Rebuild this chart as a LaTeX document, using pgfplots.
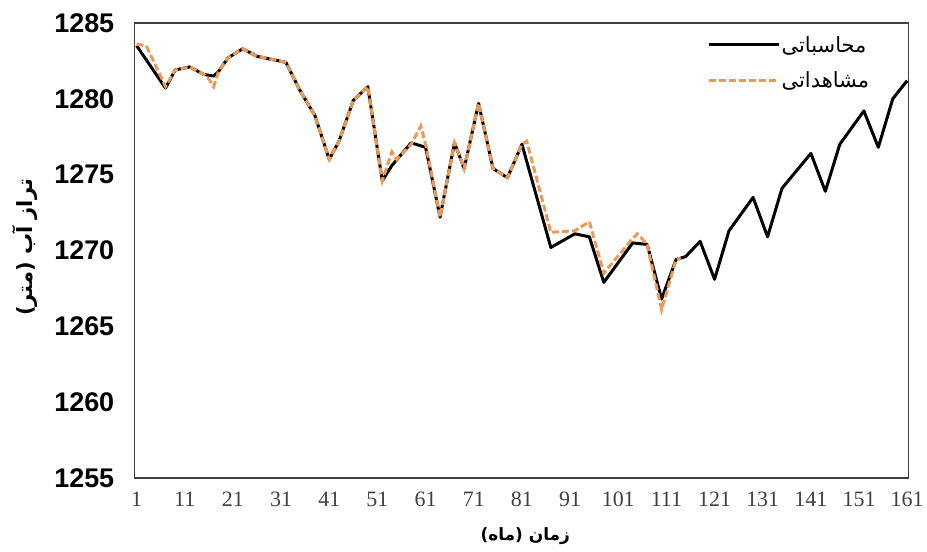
\documentclass[border=0pt]{standalone}
\usepackage{fontspec}
\setmainfont{Liberation Serif}
\newfontfamily\arabicfont[Script=Arabic]{DejaVu Sans}
\newfontfamily\sansb{Liberation Sans}
\TeXXeTstate=1
\usepackage{pgfplots}
\pgfplotsset{compat=1.18}
\definecolor{obs}{RGB}{236,152,86}

\begin{document}
\begin{tikzpicture}
\begin{axis}[name=ax, scale only axis, width=775pt, height=456pt,
 xmin=0.6, xmax=161.2, ymin=1255, ymax=1285,
 xtick={1,11,...,161}, ytick={1255,1260,...,1285},
 major tick length=0pt,
 axis line style={black!75, line width=1.2pt},
 /pgf/number format/assume math mode=true,
 /pgf/number format/1000 sep={},
 yticklabel style={font=\sansb\bfseries\fontsize{27}{27}\selectfont, xshift=-17pt},
 xticklabel style={font=\fontsize{22}{22}\selectfont, text=black!75, yshift=-10pt},
 xlabel={\arabicfont\bfseries\fontsize{17}{17}\selectfont\beginR زمان (ماه)\endR},
 x label style={at={(axis description cs:0.505,-0.127)}, anchor=center},
 ylabel={\arabicfont\bfseries\fontsize{21}{21}\selectfont\beginR تراز آب (متر)\endR},
 y label style={at={(axis description cs:-0.142,0.507)}, anchor=center},
 legend style={draw=none, fill=none, at={(0.955,0.978)}, anchor=north east,
   font=\arabicfont\fontsize{21}{21}\selectfont, row sep=16pt, column sep=0pt,
   nodes={inner sep=1pt}},
 legend cell align=left,
 legend image code/.code={\draw[#1] (0pt,0pt) -- (70pt,0pt);},
]
\addplot[black, line width=3pt, line join=round] coordinates {
(1,1283.5)(7,1280.7)(9,1281.9)(12,1282.1)(15,1281.6)(17,1281.5)(18,1281.8)(20,1282.7)(23,1283.3)(26,1282.8)(32,1282.4)(35,1280.5)(38,1278.9)(41,1276.0)(43,1277.2)(46,1279.9)(49,1280.8)(52,1274.6)(54,1275.6)(58,1277.1)(61,1276.8)(64,1272.2)(67,1277.1)(69,1275.4)(72,1279.7)(75,1275.4)(78,1274.8)(81,1277.0)(87,1270.2)(92,1271.1)(95,1270.9)(98,1267.9)(104,1270.5)(107,1270.4)(110,1266.8)(113,1269.4)(115,1269.6)(118,1270.6)(121,1268.1)(124,1271.3)(129,1273.5)(132,1270.9)(135,1274.1)(141,1276.4)(144,1273.9)(147,1277.0)(152,1279.2)(155,1276.8)(158,1280.0)(161,1281.2)
};
\addlegendentry{\beginR محاسباتی\endR}
\addplot[obs, line width=3pt, dash pattern=on 7pt off 3pt] coordinates {
(1,1283.6)(3,1283.5)(7,1280.8)(9,1281.9)(12,1282.1)(15,1281.6)(16,1281.3)(17,1280.8)(18,1281.8)(20,1282.7)(23,1283.3)(26,1282.8)(32,1282.4)(35,1280.5)(38,1278.9)(41,1276.0)(43,1277.2)(46,1279.9)(49,1280.8)(52,1274.6)(54,1276.5)(55,1276.0)(58,1277.0)(60,1278.2)(61,1277.0)(64,1272.2)(67,1277.1)(69,1275.4)(72,1279.7)(75,1275.4)(78,1274.8)(81,1277.0)(82,1277.2)(87,1271.2)(92,1271.3)(95,1271.9)(98,1268.5)(104,1270.8)(105,1271.1)(107,1270.4)(110,1266.1)(113,1269.4)(114,1269.5)
};
\addlegendentry{\beginR مشاهداتی\endR}
\end{axis}
\path ([shift={(-135pt,-74pt)}]ax.south west) rectangle ([shift={(17pt,23pt)}]ax.north east);
\end{tikzpicture}
\end{document}
